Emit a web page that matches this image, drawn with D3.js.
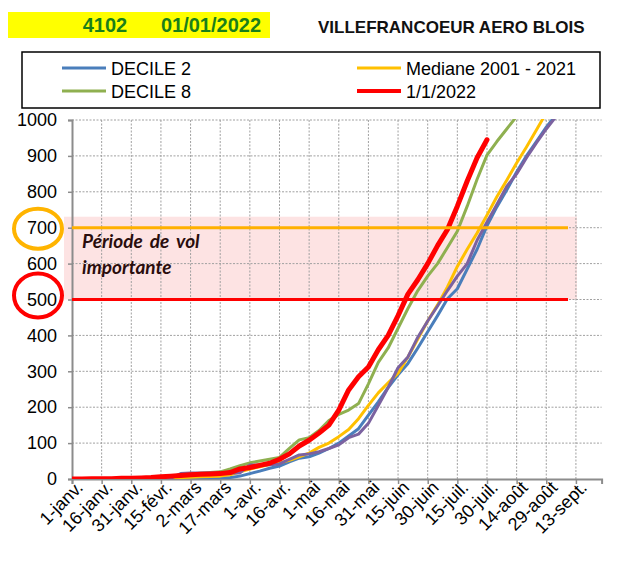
<!DOCTYPE html>
<html>
<head>
<meta charset="utf-8">
<script src="https://cdn.jsdelivr.net/npm/d3@7"></script>
<style>
  body { margin: 0; background: #fff; }
  svg { display: block; font-family: "Liberation Sans", Arial, sans-serif; }
</style>
</head>
<body>
<div id="chart"></div>
<script>
// day offsets from 1 Jan, one value every 5 days
const DAYS = d3.range(0, 250, 5);
const TICK_DAYS = d3.range(0, 256, 15);
const TICK_LABELS = ["1-janv.", "16-janv.", "31-janv.", "15-févr.", "2-mars", "17-mars", "1-avr.", "16-avr.",
   "1-mai", "16-mai", "31-mai", "15-juin", "30-juin", "15-juil.", "30-juil.", "14-août", "29-août", "13-sept."];
const Y_TICKS = d3.range(0, 1001, 100);

const DECILE_2 = [0, 0, 0, 0, 0, 1, 1, 1, 1, 1, 2, 2, 2, 2, 2, 3, 4, 8, 15, 22,
   30, 36, 48, 58, 62, 72, 85, 100, 120, 140, 178, 215, 255, 290, 322, 365, 410, 455, 502, 530,
   585, 640, 705, 758, 805, 855, 900, 940, 980, 1015];
const DECILE_8 = [0, 0, 1, 1, 1, 2, 2, 2, 3, 3, 7, 12, 14, 16, 18, 20, 28, 37, 45, 50,
   55, 60, 85, 109, 115, 135, 163, 180, 192, 210, 265, 325, 365, 420, 475, 525, 565, 600, 645, 690,
   760, 835, 902, 940, 975, 1010, 1045, 1080, 1110, 1140];
const MEDIANE = [0, 0, 0, 0, 0, 1, 1, 1, 2, 2, 3, 4, 5, 6, 7, 8, 12, 20, 28, 34,
   40, 45, 52, 62, 72, 88, 100, 118, 138, 168, 205, 240, 268, 295, 340, 390, 440, 485, 535, 592,
   640, 685, 735, 786, 832, 880, 925, 972, 1020, 1060];
const SERIE_5 = [0, 0, 0, 0, 0, 0, 0, 0, 0, 0, 2, 15, 17, 17, 17, 17, 17, 17, 39, 39,
   40, 42, 55, 67, 70, 76, 85, 95, 115, 125, 155, 205, 255, 310, 340, 395, 440, 482, 525, 565,
   600, 665, 715, 765, 815, 850, 895, 936, 975, 1010];
const Y2022 = [0, 0, 1, 1, 1, 2, 2, 3, 4, 6, 8, 10, 12, 13, 14, 15, 18, 28, 32, 38,
   44, 55, 70, 92, 108, 128, 150, 192, 248, 285, 312, 360, 400, 455, 515, 555, 600, 650, 695, 760,
   830, 895, 945];

const SERIES = [
   { name: "DECILE 2", values: DECILE_2, color: "#4a7ebb", width: 3 },
   { name: "DECILE 8", values: DECILE_8, color: "#8fb050", width: 3 },
   { name: "Mediane 2001 - 2021", values: MEDIANE, color: "#ffc000", width: 3 },
   { name: null, values: SERIE_5, color: "#7b62a0", width: 3 },
   { name: "1/1/2022", values: Y2022, color: "#ff0000", width: 5 }
];
const LEGEND_ORDER = [0, 2, 1, 4];

const WIDTH = 619;
const HEIGHT = 563;
const LEFT = 72, RIGHT = 601.6, TOP = 120, BOTTOM = 479;

const svg = d3.select("#chart").append("svg")
   .attr("width", WIDTH)
   .attr("height", HEIGHT);

const x = d3.scaleLinear().domain([0, 268]).range([LEFT, RIGHT]);
const y = d3.scaleLinear().domain([0, 1000]).range([BOTTOM, TOP]);

// header
svg.append("rect")
   .attr("x", 8).attr("y", 12).attr("width", 262).attr("height", 26)
   .attr("fill", "#ffff00");
svg.append("text")
   .attr("x", 105).attr("y", 32)
   .attr("text-anchor", "middle")
   .attr("font-size", "20px").attr("font-weight", "bold")
   .attr("fill", "#1a7f1a")
   .text("4102");
svg.append("text")
   .attr("x", 211).attr("y", 32)
   .attr("text-anchor", "middle")
   .attr("font-size", "20px").attr("font-weight", "bold")
   .attr("fill", "#1a7f1a")
   .text("01/01/2022");
svg.append("text")
   .attr("x", 318).attr("y", 33)
   .attr("font-size", "17px").attr("font-weight", "bold")
   .attr("fill", "#111")
   .text("VILLEFRANCOEUR AERO BLOIS");

// legend
svg.append("rect")
   .attr("x", 22).attr("y", 52).attr("width", 578).attr("height", 56)
   .attr("fill", "#fff").attr("stroke", "#000").attr("stroke-width", 1.5);
const legendItem = svg.selectAll(".legend-item")
   .data(LEGEND_ORDER.map(i => SERIES[i]))
   .join("g")
   .attr("class", "legend-item")
   .attr("transform", (d, i) => `translate(${i % 2 === 0 ? 62 : 357}, ${i < 2 ? 68 : 91})`);
legendItem.append("line")
   .attr("x1", 0).attr("x2", 44)
   .attr("stroke", d => d.color)
   .attr("stroke-width", d => d.width === 5 ? 4 : 3);
legendItem.append("text")
   .attr("x", 49).attr("y", 7)
   .attr("font-size", "18px").attr("fill", "#000")
   .text(d => d.name);

// highlight band
svg.append("rect")
   .attr("x", 64).attr("y", y(700) - 11)
   .attr("width", 577 - 64).attr("height", y(500) - y(700) + 11)
   .attr("fill", "#fde3e3");

// grid
svg.append("g")
   .selectAll("line")
   .data(Y_TICKS.slice(1))
   .join("line")
   .attr("x1", LEFT).attr("x2", RIGHT)
   .attr("y1", d => y(d)).attr("y2", d => y(d))
   .attr("stroke", "#a0a0a0").attr("stroke-width", 1).attr("stroke-dasharray", "2,1.5");
svg.append("g")
   .selectAll("line")
   .data(TICK_DAYS.slice(1))
   .join("line")
   .attr("x1", d => x(d)).attr("x2", d => x(d))
   .attr("y1", TOP).attr("y2", BOTTOM)
   .attr("stroke", "#a0a0a0").attr("stroke-width", 1).attr("stroke-dasharray", "2,1.5");

// axes
const yAxis = svg.append("g")
   .attr("transform", `translate(${LEFT},0)`)
   .call(d3.axisLeft(y).tickValues(Y_TICKS).tickFormat(d3.format("d")).tickSize(4).tickPadding(11));
yAxis.selectAll("text").attr("font-size", "18px").attr("fill", "#000").attr("font-family", "Liberation Sans, Arial, sans-serif");

const xAxis = svg.append("g")
   .attr("transform", `translate(0,${BOTTOM})`)
   .call(d3.axisBottom(x).tickValues(TICK_DAYS).tickFormat((d, i) => TICK_LABELS[i]).tickSize(5));
xAxis.selectAll("text")
   .attr("font-size", "18px").attr("fill", "#000")
   .attr("font-family", "Liberation Sans, Arial, sans-serif")
   .attr("text-anchor", "end")
   .attr("dy", "0")
   .attr("transform", "translate(6,4) rotate(-45)");
[xAxis, yAxis].forEach(a => {
   a.select(".domain").attr("stroke", "#8c8c8c").attr("stroke-width", 2);
   a.selectAll(".tick line").attr("stroke", "#8c8c8c").attr("stroke-width", 1.5);
});

// series
svg.append("clipPath").attr("id", "plot-clip")
   .append("rect").attr("x", LEFT).attr("y", TOP - 1).attr("width", RIGHT - LEFT).attr("height", BOTTOM - TOP + 1);
const line = d3.line()
   .x((d, i) => x(DAYS[i]))
   .y(d => y(d));
svg.append("g")
   .attr("clip-path", "url(#plot-clip)")
   .selectAll("path")
   .data(SERIES)
   .join("path")
   .attr("fill", "none")
   .attr("stroke", d => d.color)
   .attr("stroke-width", d => d.width)
   .attr("stroke-linejoin", "round")
   .attr("stroke-linecap", "round")
   .attr("d", d => line(d.values));

// thresholds
svg.append("line")
   .attr("x1", LEFT).attr("x2", 568)
   .attr("y1", y(700)).attr("y2", y(700))
   .attr("stroke", "#ffb000").attr("stroke-width", 3);
svg.append("line")
   .attr("x1", LEFT).attr("x2", 568)
   .attr("y1", y(500)).attr("y2", y(500))
   .attr("stroke", "#ff0000").attr("stroke-width", 3);

const note = svg.append("text")
   .attr("font-family", "Lato, 'Open Sans', sans-serif")
   .attr("font-size", "19px").attr("font-weight", "bold").attr("font-style", "italic")
   .attr("word-spacing", "3px")
   .attr("fill", "#2a0d0d");
note.append("tspan").attr("x", 82).attr("y", 248).text("Période de vol");
note.append("tspan").attr("x", 82).attr("y", 274).text("importante");

// circled levels
svg.append("ellipse")
   .attr("cx", 38).attr("cy", y(700) + 1).attr("rx", 24).attr("ry", 20)
   .attr("fill", "none").attr("stroke", "#ffb400").attr("stroke-width", 4);
svg.append("ellipse")
   .attr("cx", 38).attr("cy", y(500) - 4).attr("rx", 24).attr("ry", 22)
   .attr("fill", "none").attr("stroke", "#ff0000").attr("stroke-width", 4);
</script>
</body>
</html>
